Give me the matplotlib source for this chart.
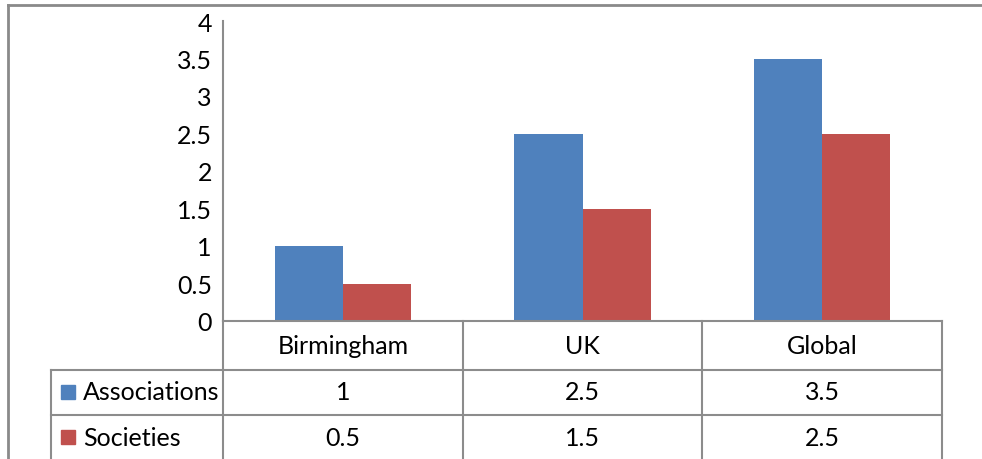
import matplotlib
matplotlib.use("Agg")
import matplotlib.pyplot as plt
from matplotlib.lines import Line2D
from matplotlib.patches import Rectangle
import numpy as np

categories = ["Birmingham", "UK", "Global"]
series_names = ["Associations", "Societies"]
associations = [1, 2.5, 3.5]
societies = [0.5, 1.5, 2.5]
y_ticks = [0, 0.5, 1, 1.5, 2, 2.5, 3, 3.5, 4]
y_labels = ["0", "0.5", "1", "1.5", "2", "2.5", "3", "3.5", "4"]

colors = ["#4F81BD", "#C0504D"]
grid_col = "#8C8C8C"

plt.rcParams["font.family"] = ["Lato", "DejaVu Sans"]
fs = 18
W, H = 982, 460
fig = plt.figure(figsize=(W / 100, H / 100), dpi=100)


def fx(px):
    return px / W


def fy(py):
    return 1 - py / H


# plot area in pixels
x0, x1, y0, y1 = 223, 942, 322, 22
ax = fig.add_axes([fx(x0), fy(y0), fx(x1) - fx(x0), fy(y1) - fy(y0)])

x = np.arange(len(categories))
w = 0.284
ax.bar(x - w / 2, associations, w, color=colors[0])
ax.bar(x + w / 2, societies, w, color=colors[1])

ax.set_xlim(-0.5, len(categories) - 0.5)
ax.set_ylim(0, 4)
ax.set_yticks(y_ticks)
ax.set_yticklabels(y_labels, fontsize=fs)
ax.tick_params(axis="y", length=0, pad=8)
ax.set_xticks([])
for s in ["top", "right"]:
    ax.spines[s].set_visible(False)
for s in ["left", "bottom"]:
    ax.spines[s].set_color(grid_col)
    ax.spines[s].set_linewidth(1.5)

# data table below the axes
row_lines = [322, 371, 416]
tbl_left = 51
col_edges = [x0 + i * (x1 - x0) / len(categories) for i in range(len(categories) + 1)]
lw = 1.5


def hline(xa, xb, y):
    fig.add_artist(Line2D([fx(xa), fx(xb)], [fy(y), fy(y)], color=grid_col, lw=lw))


def vline(xp, ya, yb):
    fig.add_artist(Line2D([fx(xp), fx(xp)], [fy(ya), fy(yb)], color=grid_col, lw=lw))


hline(tbl_left, x1, row_lines[1])
hline(tbl_left, x1, row_lines[2])
for cx in col_edges:
    vline(cx, row_lines[0], H + 5)
vline(tbl_left, row_lines[1], H + 5)

row_mid = [347, 393, 438]
for i, c in enumerate(categories):
    cx = (col_edges[i] + col_edges[i + 1]) / 2
    fig.text(fx(cx), fy(row_mid[0]), c, ha="center", va="center", fontsize=fs)

for r, (name, vals) in enumerate(zip(series_names, [associations, societies])):
    ym = row_mid[r + 1]
    fig.add_artist(Rectangle((fx(61), fy(ym + 7)), fx(14), 14 / H,
                             color=colors[r], transform=fig.transFigure))
    fig.text(fx(83), fy(ym), name, ha="left", va="center", fontsize=fs)
    for i, v in enumerate(vals):
        cx = (col_edges[i] + col_edges[i + 1]) / 2
        fig.text(fx(cx), fy(ym), f"{v:g}", ha="center", va="center", fontsize=fs)

# outer chart frame (partly cropped)
fig.add_artist(Line2D([fx(8), fx(W + 5)], [fy(6), fy(6)], color="#8A8A8A", lw=2))
fig.add_artist(Line2D([fx(8), fx(8)], [fy(6), fy(H + 5)], color="#8A8A8A", lw=2))

fig.savefig("out.png", dpi=100)
